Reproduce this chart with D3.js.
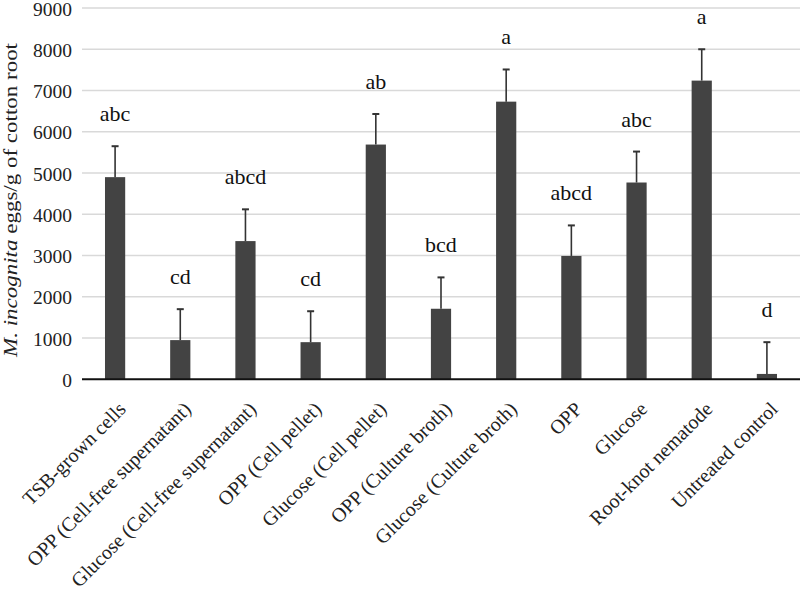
<!DOCTYPE html>
<html><head><meta charset="utf-8">
<script src="https://cdn.jsdelivr.net/npm/d3@7"></script>
<style>body{margin:0;background:#fff} svg text{font-family:"Liberation Serif","Times New Roman","DejaVu Serif",serif !important}</style>
</head><body>
<svg id="c" width="800" height="600"></svg>
<script>
const categories = ["TSB-grown cells","OPP (Cell-free supernatant)","Glucose (Cell-free supernatant)","OPP (Cell pellet)","Glucose (Cell pellet)","OPP (Culture broth)","Glucose (Culture broth)","OPP","Glucose","Root-knot nematode","Untreated control"];
const means = [4900, 950, 3350, 900, 5690, 1710, 6730, 2990, 4770, 7240, 130];
const errors = [750, 750, 770, 750, 740, 760, 780, 740, 750, 760, 770];
const letters = ["abc","cd","abcd","cd","ab","bcd","a","abcd","abc","a","d"];
const yTicks = [0,1000,2000,3000,4000,5000,6000,7000,8000,9000];

const svg = d3.select("#c");
const x = d3.scaleBand().domain(categories).range([82.5, 799.5]).paddingInner(0.69).paddingOuter(0.345);
const y = d3.scaleLinear().domain([0, 9000]).range([379.3, 8]);

// gridlines
svg.append("g").selectAll("line").data(yTicks.filter(d=>d>0)).join("line")
  .attr("x1", 82).attr("x2", 800).attr("y1", d=>y(d)).attr("y2", d=>y(d))
  .attr("stroke", "#d9d9d9").attr("stroke-width", 1.6);

// y axis labels
const yAxis = d3.axisLeft(y).tickValues(yTicks).tickSize(0).tickPadding(0).tickFormat(d3.format("d"));
const ya = svg.append("g").attr("transform", "translate(72,0)").call(yAxis);
ya.select(".domain").remove();
ya.selectAll("text").attr("font-size", 19.5).attr("fill", "#222").attr("dy", "0.36em");

// bars
svg.append("g").selectAll("rect").data(categories).join("rect")
  .attr("x", d=>x(d)).attr("width", x.bandwidth())
  .attr("y", (d,i)=>y(means[i])).attr("height", (d,i)=>y(0)-y(means[i]))
  .attr("fill", "#434343");

// error bars
const eb = svg.append("g").attr("stroke", "#333").attr("stroke-width", 1.6);
categories.forEach((c,i)=>{
  const cx = x(c) + x.bandwidth()/2;
  eb.append("line").attr("x1", cx).attr("x2", cx).attr("y1", y(means[i])).attr("y2", y(means[i]+errors[i]));
  eb.append("line").attr("x1", cx-3.5).attr("x2", cx+3.5).attr("y1", y(means[i]+errors[i])).attr("y2", y(means[i]+errors[i])).attr("stroke-width", 2);
});

// letters
svg.append("g").selectAll("text").data(categories).join("text")
  .attr("x", d=>x(d)+x.bandwidth()/2)
  .attr("y", (d,i)=>y(means[i]+errors[i]) - 25)
  .attr("text-anchor", "middle").attr("font-size", 22).attr("fill", "#111")
  .text((d,i)=>letters[i]);

// x axis
const xAxis = d3.axisBottom(x).tickSize(0).tickPadding(0);
const xa = svg.append("g").attr("transform", `translate(0,${y(0)})`).call(xAxis);
xa.select(".domain").attr("d", "M82,0H800").attr("stroke", "#111").attr("stroke-width", 2);
xa.selectAll("text")
  .attr("font-size", 20).attr("fill", "#222")
  .attr("text-anchor", "end").attr("dy", null).attr("y", 0)
  .attr("transform", "translate(12,31) rotate(-45)");

// y title
const t = svg.append("text").attr("transform", "translate(17,200) rotate(-90)")
  .attr("text-anchor", "middle").attr("font-size", 18).attr("fill", "#222")
  .attr("textLength", 314).attr("lengthAdjust", "spacingAndGlyphs");
t.append("tspan").attr("font-style", "italic").text("M. incognita");
t.append("tspan").text(" eggs/g of cotton root");
</script>
</body></html>
